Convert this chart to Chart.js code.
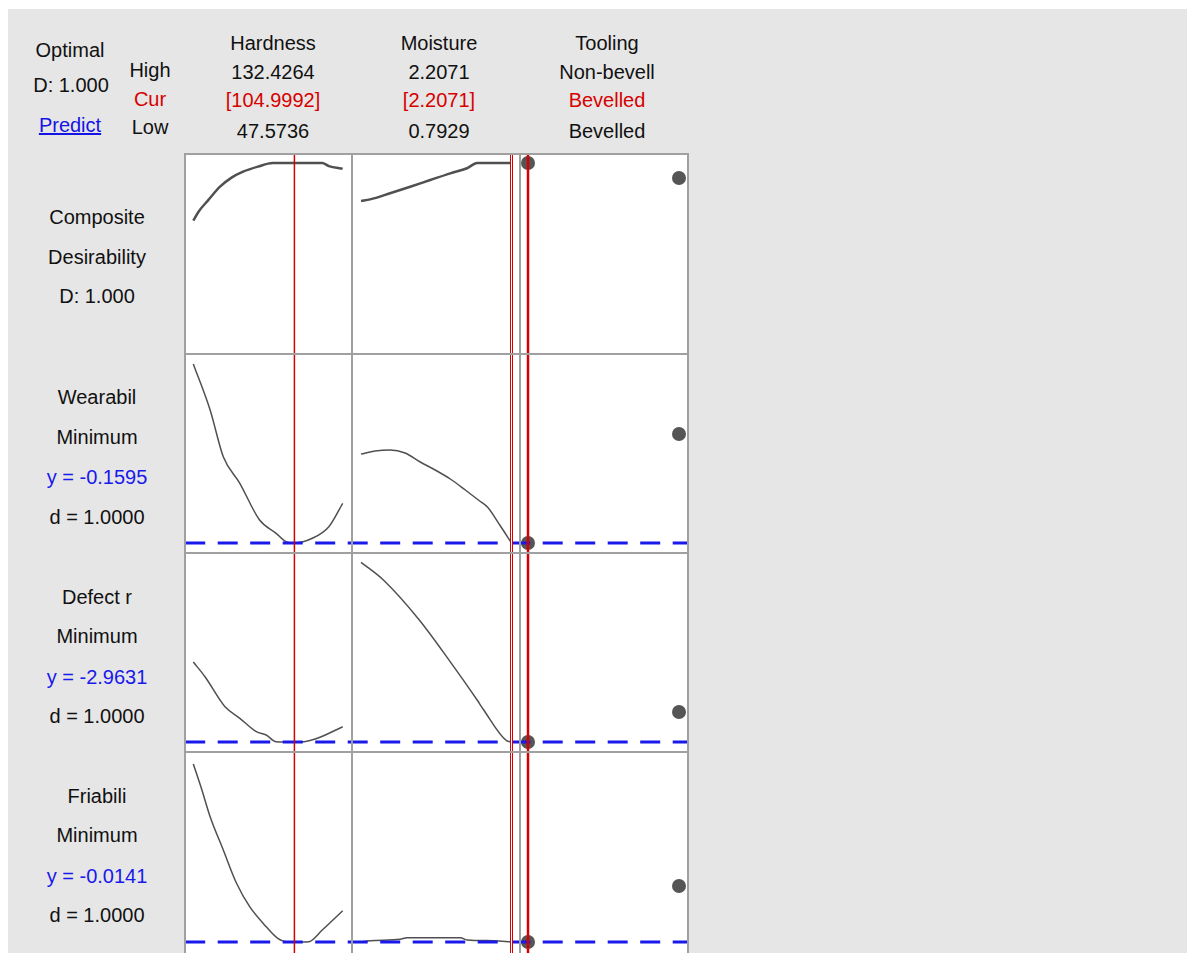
<!DOCTYPE html>
<html>
<head>
<meta charset="utf-8">
<script src="https://cdn.jsdelivr.net/npm/chart.js@4.4.1/dist/chart.umd.min.js"></script>
<style>
  html, body { margin: 0; padding: 0; width: 1187px; height: 953px; overflow: hidden; background: #fff; }
  body { position: relative; font-family: "Liberation Sans", Arial, sans-serif; }
  #bg { position: absolute; left: 8px; top: 9px; right: 0; bottom: 0; background: #e6e6e6; }
  #frame { position: absolute; left: 184px; top: 153px; width: 505px; height: 800px; background: #a0a0a0; }
  canvas { position: absolute; background: #fff; }
  .lbl { position: absolute; width: 200px; text-align: center; font-size: 20px; line-height: 24px; color: #111; white-space: nowrap; }
</style>
</head>
<body>
<div id="bg"></div>
<div id="frame"></div>
<script>
// factors (columns)
const factorNames = ['Hardness', 'Moisture', 'Tooling'];
const factorHigh = ['132.4264', '2.2071', 'Non-bevell'];
const factorCur = ['[104.9992]', '[2.2071]', 'Bevelled'];
const factorLow = ['47.5736', '0.7929', 'Bevelled'];
const curX = [104.9992, 2.2071, 0];          // Tooling: 0 = Bevelled, 1 = Non-bevell
const toolingLevels = ['Bevelled', 'Non-bevell'];

// responses (rows)
const rowNames = [['Composite', 'Desirability'], ['Wearabil', 'Minimum'], ['Defect r', 'Minimum'], ['Friabili', 'Minimum']];
const yCur = [1.000, -0.1595, -2.9631, -0.0141];
const dCur = [1.000, 1.0000, 1.0000, 1.0000];

// composite desirability
const compHardX = [47.5736, 50.55, 56.17, 62.75, 69.32, 75.84, 84.27, 92.70, 120.8, 124.56, 132.4264];
const compHardY = [0.681, 0.731, 0.796, 0.869, 0.919, 0.952, 0.980, 1.0, 1.0, 0.983, 0.969];
const compMoistX = [0.7929, 0.878, 1.066, 1.255, 1.443, 1.632, 1.789, 1.884, 2.2071];
const compMoistY = [0.790, 0.799, 0.833, 0.869, 0.906, 0.943, 0.971, 1.0, 1.0];
const compTool = [1.0, 0.917];

// Wearabil
const wearHardX = [47.5736, 57.13, 64.6, 73.99, 85.22, 94.61, 100.23, 104.9992, 115.18, 124.56, 132.4264];
const wearHardY = [0.7355, 0.5055, 0.272, 0.139, -0.0445, -0.111, -0.153, -0.1595, -0.136, -0.078, 0.039];
const wearMoistX = [0.7929, 0.925, 1.066, 1.207, 1.349, 1.490, 1.632, 1.773, 1.896, 1.981, 2.103, 2.2071];
const wearMoistY = [0.2855, 0.3005, 0.3055, 0.2905, 0.2455, 0.2055, 0.1605, 0.1055, 0.0555, 0.0205, -0.0745, -0.1595];
const wearTool = [-0.1595, 0.3855];

// Defect r
const defHardX = [47.5736, 54.32, 62.75, 65.56, 73.99, 83.37, 88.99, 94.61, 104.9992, 110.51, 118.04, 132.4264];
const defHardY = [-1.3631, -1.6631, -2.1231, -2.2571, -2.4891, -2.7571, -2.8231, -2.9571, -2.9631, -2.9571, -2.8891, -2.6571];
const defMoistX = [0.7929, 1.0031, 1.333, 1.632, 1.884, 1.946, 2.160, 2.2071];
const defMoistY = [0.6309, 0.2769, -0.5031, -1.36, -2.1231, -2.3231, -2.9371, -2.9631];
const defTool = [-2.9631, -2.3631];

// Friabili
const friHardX = [47.5736, 52.46, 57.13, 64.60, 72.13, 79.60, 88.99, 95.51, 102.08, 104.9992, 109.56, 113.32, 120.80, 132.4264];
const friHardY = [0.6979, 0.5939, 0.4871, 0.3539, 0.2207, 0.1271, 0.0471, 0.0007, -0.0141, -0.0141, -0.0141, -0.0129, 0.0339, 0.1111];
const friMoistX = [0.7929, 0.8778, 1.1606, 1.2238, 1.7263, 1.7895, 2.0403, 2.2071];
const friMoistY = [-0.0141, -0.0089, -0.0033, 0.0031, 0.0031, -0.0061, -0.0089, -0.0141];
const friTool = [-0.0141, 0.2099];

// axis limits of each column / row
const xLimits = [[43.427, 137.14], [0.7175, 2.2776], [-0.0464, 1.053]];
const yLimits = [[-0.0497, 1.0442], [-0.2045, 0.7805], [-3.1431, 0.7969], [-0.0581, 0.7419]];

const curves = [
    [[compHardX, compHardY], [compMoistX, compMoistY], compTool],
    [[wearHardX, wearHardY], [wearMoistX, wearMoistY], wearTool],
    [[defHardX, defHardY], [defMoistX, defMoistY], defTool],
    [[friHardX, friHardY], [friMoistX, friMoistY], friTool]
];

// panel placement (page pixels)
const colLeft = [186, 353, 521], colWidth = [165, 166, 166];
const rowTop = [155, 355, 554, 753], rowHeight = [198, 197, 197, 200];

const RED = 'rgb(215,0,0)';
const BLUE = 'rgb(25,25,235)';

const label = (text, cx, cy, color, extra) => {
    const d = document.createElement('div');
    d.className = 'lbl';
    d.textContent = text;
    d.style.left = (cx - 100) + 'px';
    d.style.top = (cy - 12) + 'px';
    if (color) d.style.color = color;
    if (extra) Object.assign(d.style, extra);
    document.body.appendChild(d);
};

// header
label('Optimal', 70, 50);
label('D: ' + dCur[0].toFixed(3), 71, 85);
label('Predict', 70, 125, 'rgb(20,20,230)', { textDecoration: 'underline' });
label('High', 150, 70);
label('Cur', 150, 99, RED);
label('Low', 150, 127);
const colCenter = [273, 439, 607];
factorNames.forEach((name, c) => {
    label(name, colCenter[c], 43);
    label(factorHigh[c], colCenter[c], 72);
    label(factorCur[c], colCenter[c], 100, RED);
    label(factorLow[c], colCenter[c], 131);
});

// row labels
const rowLabelY = [[217, 257, 296], [397, 437, 477, 517], [597, 636, 677, 716], [796, 835, 876, 915]];
rowNames.forEach((names, r) => {
    const ys = rowLabelY[r];
    label(names[0], 97, ys[0]);
    label(names[1], 97, ys[1]);
    if (r === 0) {
        label('D: ' + dCur[0].toFixed(3), 97, ys[2]);
    } else {
        label('y = ' + yCur[r].toFixed(4), 97, ys[2], BLUE);
        label('d = ' + dCur[r].toFixed(4), 97, ys[3]);
    }
});

const DASH_PHASE = 217.7, DASH = [20, 12.5];

const makePanel = (r, c) => {
    const cv = document.createElement('canvas');
    cv.width = colWidth[c];
    cv.height = rowHeight[r];
    cv.style.left = colLeft[c] + 'px';
    cv.style.top = rowTop[r] + 'px';
    document.body.appendChild(cv);

    const [xmin, xmax] = xLimits[c];
    const [ymin, ymax] = yLimits[r];
    const datasets = [];

    // current setting (red vertical)
    datasets.push({
        data: [{ x: curX[c], y: ymin }, { x: curX[c], y: ymax }],
        borderColor: RED, borderWidth: c === 0 ? 1.5 : (c === 1 ? 3 : 2.5),
        pointRadius: 0, order: 1
    });
    if (c === 1) {
        datasets.push({
            data: [{ x: curX[c], y: ymin }, { x: curX[c], y: ymax }],
            borderColor: '#fff', borderWidth: 1, pointRadius: 0, order: 0
        });
    }

    // current response value (blue dashed)
    if (r > 0) {
        const period = DASH[0] + DASH[1];
        const off = (((colLeft[c] - DASH_PHASE) % period) + period) % period;
        datasets.push({
            data: [{ x: xmin, y: yCur[r] }, { x: xmax, y: yCur[r] }],
            borderColor: BLUE, borderWidth: 3, borderDash: DASH, borderDashOffset: off,
            pointRadius: 0, order: 2
        });
    }

    const src = curves[r][c];
    if (c < 2) {
        const [xs, ys] = src;
        datasets.push({
            data: xs.map((x, i) => ({ x: x, y: ys[i] })),
            borderColor: '#505050', borderWidth: r === 0 ? 2.5 : 1.5,
            pointRadius: 0, cubicInterpolationMode: 'monotone', order: 3
        });
    } else {
        datasets.push({
            data: toolingLevels.map((lvl, i) => ({ x: i, y: src[i] })),
            showLine: false, pointRadius: 7, pointBorderWidth: 0,
            pointBackgroundColor: '#555', order: 3, clip: false
        });
    }

    new Chart(cv.getContext('2d'), {
        type: 'line',
        data: { datasets: datasets },
        options: {
            responsive: false,
            animation: false,
            layout: { padding: 0, autoPadding: false },
            plugins: { legend: { display: false }, tooltip: { enabled: false } },
            scales: {
                x: { type: 'linear', min: xmin, max: xmax, display: false },
                y: { type: 'linear', min: ymin, max: ymax, display: false }
            }
        }
    });
};

for (let r = 0; r < 4; r++) {
    for (let c = 0; c < 3; c++) {
        makePanel(r, c);
    }
}
</script>
</body>
</html>
